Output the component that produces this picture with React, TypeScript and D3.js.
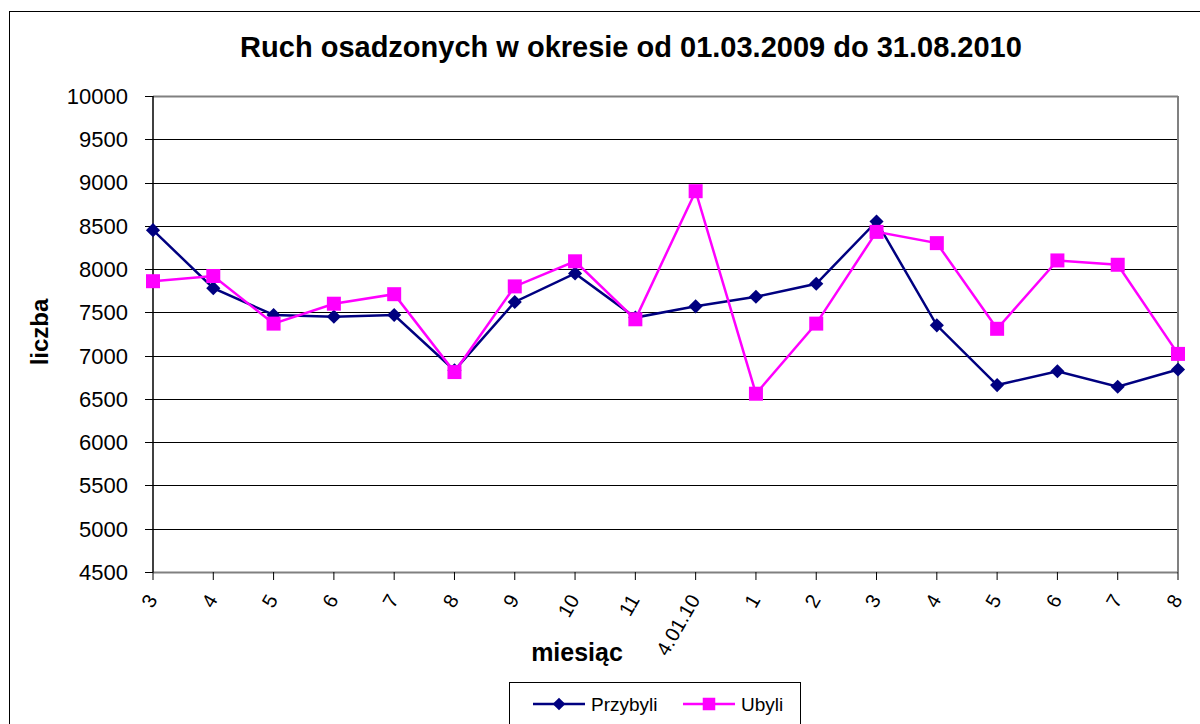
import React, { useRef, useEffect } from 'react';
import * as d3 from 'd3';

const months = ['3', '4', '5', '6', '7', '8', '9', '10', '11', '4.01.10', '1', '2', '3', '4', '5', '6', '7', '8'];
const przybyli = [8450, 7780, 7470, 7450, 7470, 6830, 7620, 7950, 7440, 7570, 7680, 7830, 8550, 7350, 6660, 6820, 6640, 6840];
const ubyli = [7860, 7920, 7370, 7600, 7710, 6810, 7800, 8090, 7420, 8900, 6560, 7370, 8430, 8300, 7310, 8100, 8050, 7020];
const yTicks = d3.range(4500, 10001, 500);

const FONT = 'Arial, "Liberation Sans", sans-serif';

const App = () => {
  const svgRef = useRef<SVGSVGElement>(null);

  useEffect(() => {
    if (svgRef.current) draw(svgRef.current);
  }, []);

  return (
    <div style={{ position: 'absolute', left: 0, top: 0 }}>
      <svg ref={svgRef} width={1200} height={724} style={{ display: 'block' }} />
    </div>
  );
};

export default App;

const draw = (node: SVGSVGElement) => {
  const svg = d3.select(node);
  svg.selectAll('*').remove();

  const left = 153, right = 1178, top = 96, bottom = 572;

  const x = d3.scalePoint<number>().domain(d3.range(months.length)).range([left, right]);
  const y = d3.scaleLinear().domain([4500, 10000]).range([bottom, top]);

  svg.append('rect').attr('width', 1200).attr('height', 724).attr('fill', '#fff');

  // outer chart frame
  svg.append('rect')
    .attr('x', 9.5).attr('y', 11.5).attr('width', 1220).attr('height', 740)
    .attr('fill', 'none').attr('stroke', '#000').attr('stroke-width', 1);

  svg.append('text')
    .attr('x', 631).attr('y', 57)
    .attr('text-anchor', 'middle')
    .style('font-family', FONT).style('font-weight', 'bold').style('font-size', '29px')
    .text('Ruch osadzonych w okresie od 01.03.2009 do 31.08.2010');

  // grid
  svg.append('g').selectAll('line').data(yTicks).enter().append('line')
    .attr('x1', left).attr('x2', right)
    .attr('y1', (d) => Math.round(y(d)) + 0.5).attr('y2', (d) => Math.round(y(d)) + 0.5)
    .attr('stroke', (d) => (d === 10000 || d === 4500 ? '#808080' : '#000'))
    .attr('stroke-width', (d) => (d === 10000 || d === 4500 ? 2 : 1));

  svg.append('line')
    .attr('x1', right).attr('x2', right).attr('y1', top).attr('y2', bottom)
    .attr('stroke', '#808080').attr('stroke-width', 2);

  // y axis
  const yAxis = svg.append('g');
  yAxis.append('line')
    .attr('x1', left).attr('x2', left).attr('y1', top).attr('y2', bottom)
    .attr('stroke', '#000').attr('stroke-width', 1.5);
  yAxis.selectAll('line.tick').data(yTicks).enter().append('line')
    .attr('class', 'tick')
    .attr('x1', left - 8).attr('x2', left)
    .attr('y1', (d) => Math.round(y(d)) + 0.5).attr('y2', (d) => Math.round(y(d)) + 0.5)
    .attr('stroke', '#000');
  yAxis.selectAll('text').data(yTicks).enter().append('text')
    .attr('x', 128).attr('y', (d) => y(d))
    .attr('dy', '0.36em')
    .attr('text-anchor', 'end')
    .style('font-family', FONT).style('font-size', '22px')
    .text((d) => d);

  // x axis ticks and labels
  const xAxis = svg.append('g');
  xAxis.selectAll('line').data(months).enter().append('line')
    .attr('x1', (d, i) => x(i)).attr('x2', (d, i) => x(i))
    .attr('y1', bottom).attr('y2', bottom + 8)
    .attr('stroke', '#000');
  xAxis.selectAll('text').data(months).enter().append('text')
    .attr('transform', (d, i) => `translate(${x(i) - 1},${bottom + 24}) rotate(-60)`)
    .attr('text-anchor', 'end')
    .attr('dy', '0.35em')
    .style('font-family', FONT).style('font-size', '20px')
    .text((d) => d);

  svg.append('text')
    .attr('x', 577).attr('y', 661)
    .attr('text-anchor', 'middle')
    .style('font-family', FONT).style('font-weight', 'bold').style('font-size', '25px')
    .text('miesiąc');

  svg.append('text')
    .attr('transform', 'translate(48,332) rotate(-90)')
    .attr('text-anchor', 'middle')
    .style('font-family', FONT).style('font-weight', 'bold').style('font-size', '24px')
    .text('liczba');

  const line = d3.line<number>().x((d, i) => x(i)).y((d) => y(d));

  const series = [
    { name: 'Przybyli', values: przybyli, color: '#000080', symbol: d3.symbolSquare, size: 100, rot: 45 },
    { name: 'Ubyli', values: ubyli, color: '#FF00FF', symbol: d3.symbolSquare, size: 196, rot: 0 }
  ];

  series.forEach((s) => {
    svg.append('path')
      .datum(s.values)
      .attr('d', line)
      .attr('fill', 'none')
      .attr('stroke', s.color)
      .attr('stroke-width', 2.5);
    svg.append('g').selectAll('path').data(s.values).enter().append('path')
      .attr('d', d3.symbol().type(s.symbol).size(s.size))
      .attr('transform', (d, i) => `translate(${x(i)},${y(d)}) rotate(${s.rot})`)
      .attr('fill', s.color);
  });

  // legend
  const legend = svg.append('g');
  legend.append('rect')
    .attr('x', 509.5).attr('y', 682.5).attr('width', 291).attr('height', 60)
    .attr('fill', '#fff').attr('stroke', '#000');
  const items = legend.selectAll('g').data(series).enter().append('g')
    .attr('transform', (d, i) => `translate(${533 + i * 150},704)`);
  items.append('line')
    .attr('x1', 0).attr('x2', 52).attr('y1', 0).attr('y2', 0)
    .attr('stroke', (d) => d.color).attr('stroke-width', 2.5);
  items.append('path')
    .attr('d', (d) => d3.symbol().type(d.symbol).size(d.size * 0.8)())
    .attr('transform', (d) => `translate(26,0) rotate(${d.rot})`)
    .attr('fill', (d) => d.color);
  items.append('text')
    .attr('x', 58).attr('y', 0).attr('dy', '0.36em')
    .style('font-family', FONT).style('font-size', '19px')
    .text((d) => d.name);
};
